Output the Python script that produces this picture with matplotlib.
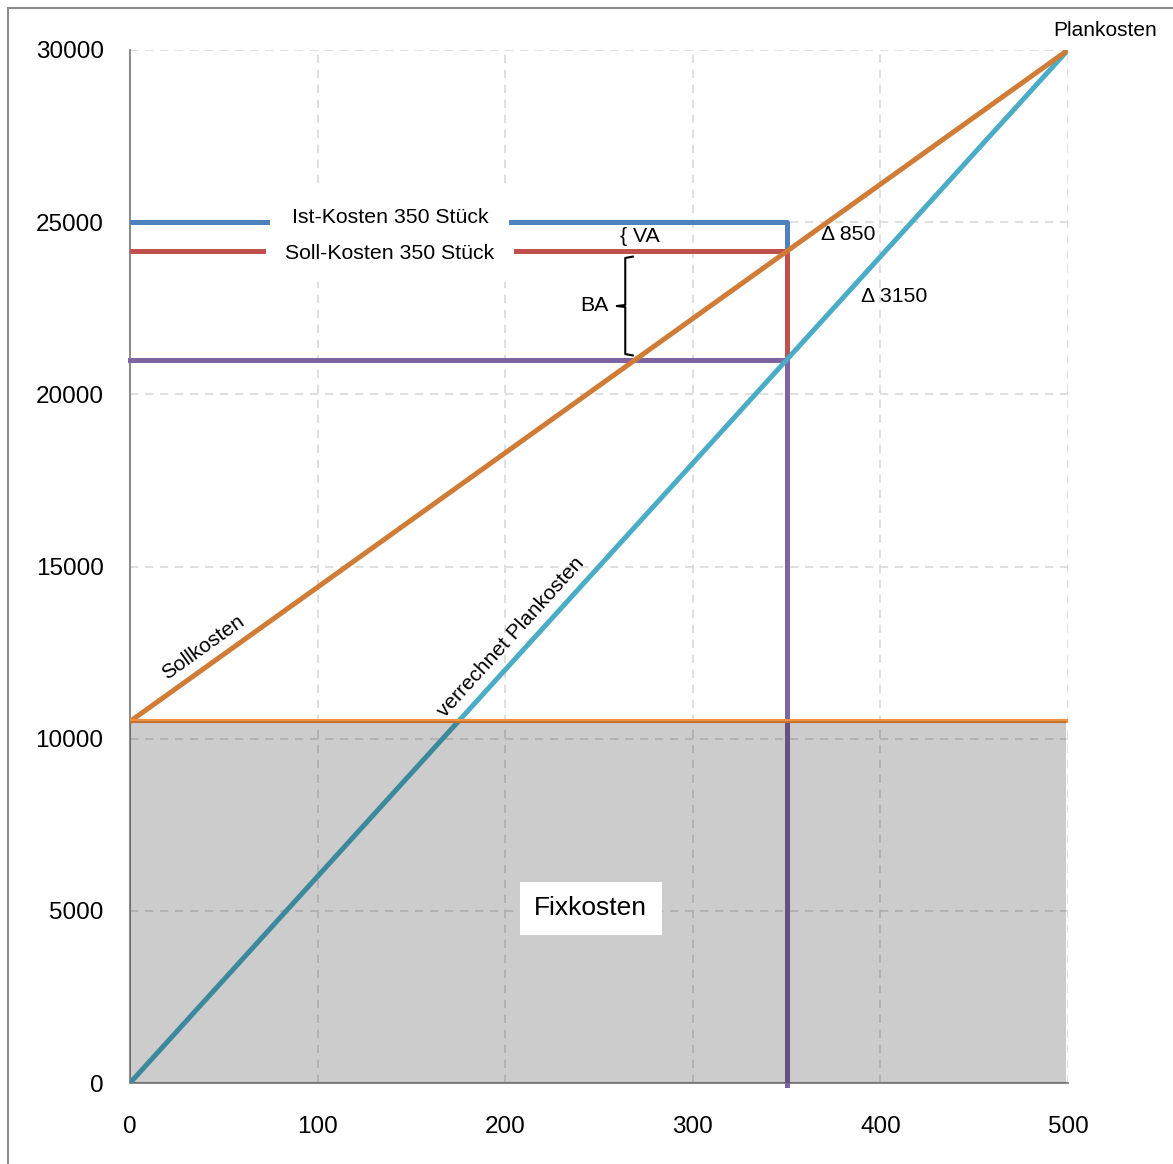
import numpy as np
import matplotlib.pyplot as plt
from matplotlib.patches import Rectangle

plt.rcParams['font.family'] = ['Liberation Sans', 'DejaVu Sans']

# Kostendaten (flexible Plankostenrechnung)
menge = [0, 500]
fixkosten = 10500
plankosten = 30000
ist_menge = 350
ist_kosten = 25000
soll_kosten = 24150        # 10500 + 350 * 39
verrechnet = 21000         # 350 * 60
va = ist_kosten - soll_kosten   # 850
ba = soll_kosten - verrechnet   # 3150

x_ticks = [0, 100, 200, 300, 400, 500]
y_ticks = [0, 5000, 10000, 15000, 20000, 25000, 30000]

fig = plt.figure(figsize=(11.73, 11.64), dpi=100)
ax = fig.add_axes([130/1173, 1-1083/1164, 938/1173, 1033/1164])

# Rahmen um die Grafik
fig.patches.append(Rectangle((8/1173, -0.1), 1.2, 1.1 - 8/1164, transform=fig.transFigure,
                             fill=False, edgecolor='#8c8c8c', lw=1.5))

ax.set_xlim(0, 500)
ax.set_ylim(0, 30000)
ax.set_xticks(x_ticks)
ax.set_yticks(y_ticks)
ax.tick_params(length=0, labelsize=17.5)
ax.tick_params(axis='x', pad=24)
ax.tick_params(axis='y', pad=19)
ax.grid(True, color='#d9d9d9', ls=(0, (5, 4)), lw=1.2)
ax.set_axisbelow(True)
for s in ['top', 'right']:
    ax.spines[s].set_visible(False)
ax.spines['left'].set_color('#8c8c8c')
ax.spines['bottom'].set_color('#8c8c8c')
ax.spines['left'].set_linewidth(1.5)
ax.spines['bottom'].set_linewidth(1.5)

lw = 3.6
# Ist-, Soll- und verrechnete Kosten bei 350 Stück
ax.plot([0, ist_menge, ist_menge], [ist_kosten, ist_kosten, soll_kosten], color='#4f81bd', lw=lw, zorder=3)
ax.plot([0, ist_menge, ist_menge], [soll_kosten, soll_kosten, verrechnet], color='#c0504d', lw=lw, zorder=3)
ax.plot([0, ist_menge, ist_menge], [verrechnet, verrechnet, -50], color='#8064a2', lw=lw, zorder=3,
        clip_on=False)

# Kostengeraden
ax.plot(menge, [0, plankosten], color='#4bacc6', lw=lw, zorder=4)
ax.plot(menge, [fixkosten, plankosten], color='#d07c36', lw=lw, zorder=4)
ax.plot(menge, [fixkosten, fixkosten], color='#f39240', lw=3, zorder=4)

# Fixkostenblock
ax.fill_between([0, 499], 0, fixkosten, color='black', alpha=0.2, lw=0, zorder=5)
ax.text(245.5, 5070, 'Fixkosten', fontsize=19, ha='center', va='center', zorder=6,
        bbox=dict(facecolor='white', edgecolor='none', boxstyle='square,pad=0.55'))

# Beschriftungen
ax.text(138.5, ist_kosten + 150, 'Ist-Kosten 350 Stück', fontsize=15.3, ha='center', va='center',
        zorder=6, bbox=dict(facecolor='white', edgecolor='none', boxstyle='square,pad=1.0'))
ax.text(138.5, soll_kosten - 60, 'Soll-Kosten 350 Stück', fontsize=15.3, ha='center', va='center',
        zorder=6, bbox=dict(facecolor='white', edgecolor='none', boxstyle='square,pad=0.9'))
ax.text(261, (ist_kosten + soll_kosten) / 2, '{ VA', fontsize=15.3, ha='left', va='center', zorder=6)
ax.text(255, (soll_kosten + verrechnet) / 2, 'BA', fontsize=15.3, ha='right', va='center', zorder=6)

# geschweifte Klammer für BA
bx, by0, by1 = 264, verrechnet + 170, soll_kosten - 190
bm = (by0 + by1) / 2
ax.plot([268, bx, bx, 259.5, bx, bx, 268], [by1 + 40, by1, bm + 30, bm, bm - 30, by0, by0 - 40],
        color='black', lw=1.5, zorder=6)

ax.text(368.5, 24630, f'Δ {va}', fontsize=15.3, ha='left', va='center', zorder=6)
ax.text(389.5, 22830, f'Δ {ba}', fontsize=15.3, ha='left', va='center', zorder=6)
ax.text(39, 12650, 'Sollkosten', fontsize=15, rotation=35.6, rotation_mode='anchor',
        ha='center', va='center', zorder=6)
ax.text(203, 12950, 'verrechnet Plankosten', fontsize=15, rotation=47.8, rotation_mode='anchor',
        ha='center', va='center', zorder=6)
ax.text(520, 30580, 'Plankosten', fontsize=15, ha='center', va='center', clip_on=False)

fig.savefig('out.png', dpi=100)
